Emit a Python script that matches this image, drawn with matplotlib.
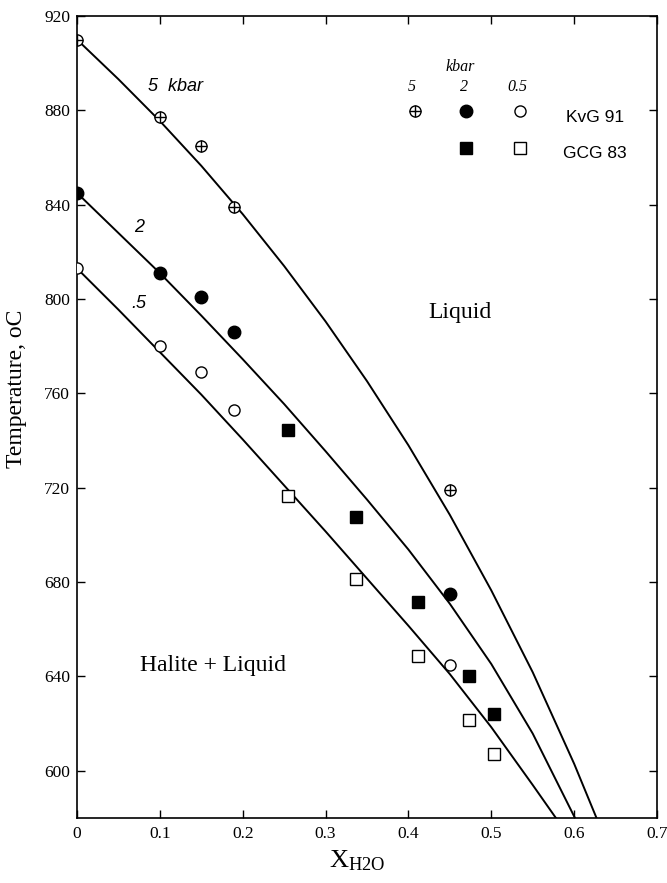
import matplotlib
matplotlib.use("Agg")
import matplotlib.pyplot as plt

# ---- data ----
# liquidus curves (read points)
curve5_x = [0.0, 0.05, 0.10, 0.15, 0.20, 0.25, 0.30, 0.35, 0.40, 0.45, 0.50, 0.55, 0.60, 0.627]
curve5_t = [910, 893.2, 875.5, 856.5, 836, 814, 790.5, 765.2, 738, 708.5, 676.5, 641.8, 603, 580]
curve2_x = [0.0, 0.05, 0.10, 0.15, 0.20, 0.25, 0.30, 0.35, 0.40, 0.45, 0.50, 0.55, 0.601]
curve2_t = [845, 828, 811, 793, 774.5, 755.5, 735.5, 715, 693.8, 670.8, 645.3, 615.8, 580]
curve05_x = [0.0, 0.05, 0.10, 0.15, 0.20, 0.25, 0.30, 0.35, 0.40, 0.45, 0.50, 0.55, 0.578]
curve05_t = [813, 795.5, 777.5, 759.5, 740.5, 721, 701.5, 681.5, 661.5, 641, 618.5, 594, 580]

# KvG 91 data
kvg_x = [0.0, 0.10, 0.15, 0.19, 0.45]
kvg5_t = [910, 877, 865, 839, 719]
kvg2_t = [845, 811, 801, 786, 675]
kvg05_t = [813, 780, 769, 753, 645]

# GCG 83 data
gcg_x = [0.255, 0.337, 0.411, 0.473, 0.503]
gcg2_t = [744.5, 707.5, 671.5, 640, 624]
gcg05_t = [716.5, 681.5, 648.5, 621.5, 607]

xticks = [0, 0.1, 0.2, 0.3, 0.4, 0.5, 0.6, 0.7]
xticklabels = ["0", "0.1", "0.2", "0.3", "0.4", "0.5", "0.6", "0.7"]
yticks = [600, 640, 680, 720, 760, 800, 840, 880, 920]

SERIF = ["Liberation Serif", "DejaVu Serif"]
SANS = ["Liberation Sans", "DejaVu Sans"]
plt.rcParams["mathtext.fontset"] = "custom"
plt.rcParams["mathtext.rm"] = "Liberation Serif"
plt.rcParams["mathtext.it"] = "Liberation Serif:italic"

fig = plt.figure(figsize=(6.67, 8.83), dpi=100)
ax = fig.add_axes([77/667, 1-818/883, 580/667, 802/883])

lw = 1.4
ax.plot(curve5_x, curve5_t, color="black", lw=lw, zorder=2)
ax.plot(curve2_x, curve2_t, color="black", lw=lw, zorder=2)
ax.plot(curve05_x, curve05_t, color="black", lw=lw, zorder=2)

ms = 8
# 5 kbar crossed circles
ax.plot(kvg_x, kvg5_t, ls="none", marker="o", ms=ms, mfc="white", mec="black", mew=1.0, zorder=3)
ax.plot(kvg_x, kvg5_t, ls="none", marker="+", ms=ms, mec="black", mew=1.0, zorder=4)
# 2 kbar filled circles
ax.plot(kvg_x, kvg2_t, ls="none", marker="o", ms=ms+1, mfc="black", mec="black", zorder=3)
# 0.5 kbar open circles
ax.plot(kvg_x, kvg05_t, ls="none", marker="o", ms=ms, mfc="white", mec="black", mew=1.0, zorder=3)
# GCG squares
ax.plot(gcg_x, gcg2_t, ls="none", marker="s", ms=ms, mfc="black", mec="black", zorder=3)
ax.plot(gcg_x, gcg05_t, ls="none", marker="s", ms=ms, mfc="white", mec="black", mew=1.0, zorder=3)

# legend (manual)
tr = ax.transAxes
lx = [0.582, 0.671, 0.763]
r1, r2 = 0.881, 0.835
ax.plot([lx[0]], [r1], transform=tr, marker="o", ms=ms, mfc="white", mec="black", mew=1.0, ls="none", clip_on=False)
ax.plot([lx[0]], [r1], transform=tr, marker="+", ms=ms, mec="black", mew=1.0, ls="none", clip_on=False)
ax.plot([lx[1]], [r1], transform=tr, marker="o", ms=ms+1, mfc="black", mec="black", ls="none", clip_on=False)
ax.plot([lx[2]], [r1], transform=tr, marker="o", ms=ms, mfc="white", mec="black", mew=1.0, ls="none", clip_on=False)
ax.plot([lx[1]], [r2], transform=tr, marker="s", ms=ms, mfc="black", mec="black", ls="none", clip_on=False)
ax.plot([lx[2]], [r2], transform=tr, marker="s", ms=ms, mfc="white", mec="black", mew=1.0, ls="none", clip_on=False)
ax.text(0.660, 0.936, "kbar", transform=tr, ha="center", va="center", family=SERIF, style="italic", fontsize=11.5)
for xx, s in zip(lx, ["5", "2", "0.5"]):
    ax.text(xx - 0.004, 0.912, s, transform=tr, ha="center", va="center", family=SERIF, style="italic", fontsize=11.5)
ax.text(0.893, 0.874, "KvG 91", transform=tr, ha="center", va="center", family=SANS, fontsize=12.5)
ax.text(0.893, 0.829, "GCG 83", transform=tr, ha="center", va="center", family=SANS, fontsize=12.5)

# curve labels
ax.text(0.170, 0.912, "5  kbar", transform=tr, ha="center", va="center", family=SANS, style="italic", fontsize=13)
ax.text(0.107, 0.736, "2", transform=tr, ha="center", va="center", family=SANS, style="italic", fontsize=13)
ax.text(0.107, 0.642, ".5", transform=tr, ha="center", va="center", family=SANS, style="italic", fontsize=13)

# field labels
ax.text(0.660, 0.630, "Liquid", transform=tr, ha="center", va="center", family=SERIF, fontsize=17)
ax.text(0.235, 0.190, "Halite + Liquid", transform=tr, ha="center", va="center", family=SERIF, fontsize=17)

ax.set_xlim(0, 0.7)
ax.set_ylim(580, 920)
ax.set_xticks(xticks)
ax.set_xticklabels(xticklabels)
ax.set_yticks(yticks)
ax.tick_params(axis="both", which="both", direction="in", top=True, right=True,
               length=6, width=1.0, labelsize=12.5)
ax.tick_params(axis="y", which="both", left=True, pad=5)
ax.tick_params(axis="x", pad=6)
for lab in ax.get_xticklabels() + ax.get_yticklabels():
    lab.set_family(SERIF)
for sp in ax.spines.values():
    sp.set_linewidth(1.2)

ax.set_ylabel("Temperature, oC", family=SERIF, fontsize=17)
ax.yaxis.label.set_va("center")
ax.yaxis.set_label_coords(-0.105, 0.535)
ax.set_xlabel(r"X$_{\mathrm{H2O}}$", family=SERIF, fontsize=19)
ax.xaxis.label.set_va("center")
ax.xaxis.set_label_coords(0.483, -0.053)

fig.savefig("out.png", dpi=100)
